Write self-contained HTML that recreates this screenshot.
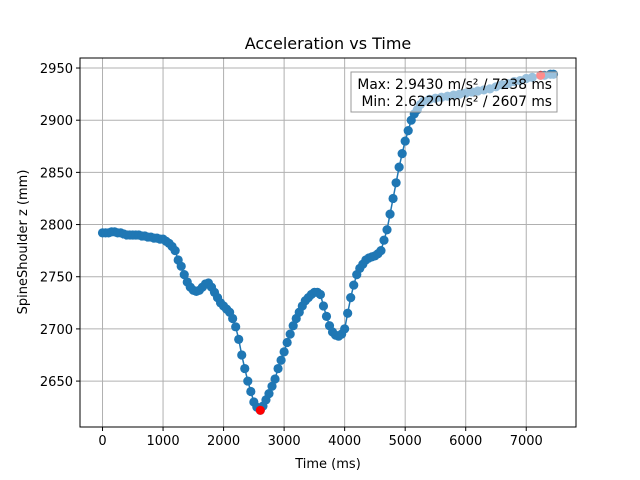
<!DOCTYPE html>
<html><head><meta charset="utf-8"><style>
body{margin:0;background:#fff}
svg{display:block;font-family:"DejaVu Sans","Liberation Sans",sans-serif}
</style></head><body>
<svg id="chart" width="640" height="480" xmlns="http://www.w3.org/2000/svg">
<rect width="640" height="480" fill="#fff"/>
<text x="328" y="49" font-size="16" text-anchor="middle">Acceleration vs Time</text>
<g id="grid"></g>
<g id="series"></g>
<g id="axes"></g>
<g>
<rect x="351" y="72" width="206" height="40" fill="#fff" fill-opacity="0.55" stroke="#999" stroke-width="1"/>
<text x="552" y="89" font-size="13.8" text-anchor="end">Max: 2.9430 m/s² / 7238 ms</text>
<text x="552" y="106" font-size="13.8" text-anchor="end">Min: 2.6220 m/s² / 2607 ms</text>
</g>
<text x="328" y="468" font-size="13" text-anchor="middle">Time (ms)</text>
<text transform="translate(27,242) rotate(-90)" font-size="13" text-anchor="middle">SpineShoulder z (mm)</text>
</svg>
<script>
const times=[0,50,100,150,200,250,300,350,400,450,500,550,600,650,700,750,800,850,900,950,1000,1050,1100,1150,1200,1250,1300,1350,1400,1450,1500,1550,1600,1650,1700,1750,1800,1850,1900,1950,2000,2050,2100,2150,2200,2250,2300,2350,2400,2450,2500,2550,2607,2650,2700,2750,2800,2850,2900,2950,3000,3050,3100,3150,3200,3250,3300,3350,3400,3450,3500,3550,3600,3650,3700,3750,3800,3850,3900,3950,4000,4050,4100,4150,4200,4250,4300,4350,4400,4450,4500,4550,4600,4650,4700,4750,4800,4850,4900,4950,5000,5050,5100,5150,5200,5250,5300,5400,5500,5600,5700,5800,5900,6000,6100,6200,6300,6400,6500,6600,6700,6800,6900,7000,7100,7238,7300,7400,7450];
const values=[2792,2792,2792,2793,2793,2792,2792,2791,2790,2790,2790,2790,2790,2789,2789,2788,2788,2787,2787,2786,2786,2784,2782,2779,2775,2766,2760,2752,2745,2740,2737,2736,2737,2740,2743,2744,2740,2735,2730,2725,2722,2719,2716,2710,2702,2690,2675,2662,2650,2640,2630,2625,2622,2626,2632,2638,2645,2652,2662,2670,2678,2687,2695,2703,2710,2716,2722,2727,2730,2733,2735,2735,2733,2722,2712,2703,2697,2694,2693,2695,2700,2715,2730,2742,2752,2758,2762,2766,2768,2769,2770,2772,2775,2785,2795,2810,2825,2840,2855,2868,2880,2890,2900,2906,2910,2915,2918,2920,2921,2922,2923,2924,2925,2926,2927,2928,2929,2930,2932,2934,2935,2937,2938,2940,2941,2943,2943,2944,2944];
const xTicks=[0,1000,2000,3000,4000,5000,6000,7000];
const yTicks=[2650,2700,2750,2800,2850,2900,2950];
const maxPt=[7238,2943], minPt=[2607,2622];
const L=80,R=576,T=58,B=427;
const x0=-372,x1=7822,y0=2606,y1=2959.6;
const X=v=>L+(v-x0)/(x1-x0)*(R-L);
const Y=v=>B-(v-y0)/(y1-y0)*(B-T);
const ns="http://www.w3.org/2000/svg";
function mk(tag,attrs,parent){const e=document.createElementNS(ns,tag);for(const k in attrs)e.setAttribute(k,attrs[k]);parent.appendChild(e);return e;}
const grid=document.getElementById('grid'),axes=document.getElementById('axes'),series=document.getElementById('series');
xTicks.forEach(t=>{const x=X(t);
 const g=mk('line',{x1:x,x2:x,y1:T,y2:B,stroke:'#b0b0b0','stroke-width':1},grid);
 
 
 mk('line',{x1:x,x2:x,y1:B,y2:B+4,stroke:'#000'},axes);
 const tx=mk('text',{x:x,y:B+18,'font-size':13,'text-anchor':'middle'},axes);tx.textContent=t;
 
 
});
yTicks.forEach(t=>{const y=Y(t);
 const g=mk('line',{x1:L,x2:R,y1:y,y2:y,stroke:'#b0b0b0','stroke-width':1},grid);
 
 
 mk('line',{x1:L-4,x2:L,y1:y,y2:y,stroke:'#000'},axes);
 const tx=mk('text',{x:L-7,y:y+5,'font-size':13,'text-anchor':'end'},axes);tx.textContent=t;
 
 
});
const frame=mk('rect',{x:L,y:T,width:R-L,height:B-T,fill:'none',stroke:'#000','stroke-width':1},axes);


const line=mk('polyline',{points:times.map((t,i)=>X(t)+','+Y(values[i])).join(' '),fill:'none',stroke:'#1f77b4','stroke-width':1.5},series);


times.forEach((t,i)=>{const c=mk('circle',{cx:X(t),cy:Y(values[i]),r:4.6,fill:'#1f77b4'},series);
 
 
});
const mx=mk('circle',{cx:X(maxPt[0]),cy:Y(maxPt[1]),r:4.5,fill:'red'},series);


const mn=mk('circle',{cx:X(minPt[0]),cy:Y(minPt[1]),r:4.5,fill:'red'},series);


</script>
</body></html>
